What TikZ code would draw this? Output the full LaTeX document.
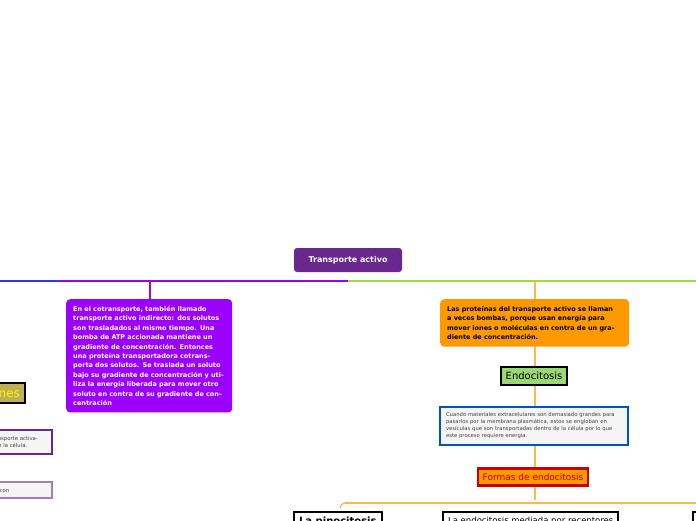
\documentclass[tikz,border=0pt]{standalone}
\usepackage{fontspec}
\setmainfont{DejaVu Sans}
\usetikzlibrary{positioning}
\definecolor{rootc}{HTML}{68288E}
\definecolor{cotc}{HTML}{9B00FF}
\definecolor{protc}{HTML}{FF9900}
\definecolor{limec}{HTML}{9BDD3C}
\definecolor{linec}{HTML}{FFB84D}
\begin{document}
\begin{tikzpicture}[x=1pt,y=-1pt,
    textbox/.style={rounded corners=4pt,align=left,inner sep=7pt,font=\bfseries\fontsize{6.5}{9.4}\selectfont},
    framebox/.style={draw=black,line width=2.2pt,inner sep=5pt},
    notebox/.style={draw,line width=2.2pt,fill=gray!8,align=left,inner sep=6pt,font=\fontsize{5.3}{7}\selectfont,text=black!75}]
    \useasboundingbox (0,0) rectangle (696,520);
    \clip (0,0) rectangle (696,520);
    % connectors
    \draw[blue!80,line width=1.2pt] (0,281) -- (60,281);
    \draw[cotc,line width=1.2pt] (60,281) -- (348,281);
    \draw[limec,line width=1.2pt] (348,281) -- (696,281);
    \draw[cotc,line width=1.2pt] (150,281) -- (150,300);
    \draw[linec,line width=1.2pt] (535,281) -- (535,500);
    \draw[linec,line width=1.2pt] (345,503) -- (696,503);
    \draw[linec,line width=1.2pt] (345,503) to[out=180,in=90] (340,508);
    % nodes
    \node[fill=rootc,rounded corners=3pt,text=white,font=\bfseries\fontsize{8}{9}\selectfont,
        minimum width=108pt,minimum height=24pt] (root) at (348,260) {Transporte activo};
    \node[textbox,fill=cotc,text=white,text width=152pt,anchor=north west] (cot) at (66,299)
        {En el cotransporte, también llamado transporte activo indirecto: dos solutos son trasladados al mismo tiempo. Una bomba de ATP accionada mantiene un gradiente de concentración. Entonces una proteína transportadora cotransporta dos solutos. Se traslada un soluto bajo su gradiente de concentración y utiliza la energía liberada para mover otro soluto en contra de su gradiente de concentración};
    \node[textbox,fill=protc,text=black,text width=175pt,anchor=north west] (prot) at (440,299)
        {Las proteínas del transporte activo se llaman a veces bombas, porque usan energía para mover iones o moléculas en contra de un gradiente de concentración.};
    \node[framebox,fill=green!45!olive!55,font=\fontsize{10}{11}\selectfont] (endo) at (534,376) {Endocitosis};
    \node[notebox,draw=blue!60!cyan!80!black,text width=176pt] (cuando) at (534,426)
        {Cuando materiales extracelulares son demasiado grandes para pasarlos por la membrana plasmática, estos se engloban en vesículas que son transportadas dentro de la célula por lo que este proceso requiere energía.};
    \node[framebox,draw=red!80!black,fill=orange!80!yellow,text=red!75!black,font=\fontsize{9}{10}\selectfont] (formas) at (533,477) {Formas de endocitosis};
    \node[framebox,fill=white,anchor=north west,font=\bfseries\fontsize{10}{12}\selectfont] (pino) at (293,511) {La pinocitosis};
    \node[framebox,fill=white,anchor=north west,font=\fontsize{8.5}{11}\selectfont] (recep) at (442,511) {La endocitosis mediada por receptores};
    \node[framebox,fill=white,anchor=north west,minimum width=30pt,minimum height=14pt] (otra) at (692,511) {};
    \node[framebox,fill=olive!60!brown!70,text=yellow,font=\fontsize{12}{13}\selectfont,anchor=east] (funciones) at (26,393) {Funciones};
    \node[notebox,draw=rootc,text width=95pt,anchor=east] (celulas) at (53,442)
        {Las células de transporte activamente los iones de la célula.};
    \node[notebox,draw=rootc!60,text width=95pt,anchor=east] (mente) at (53,490)
        {Simultáneamente con};
\end{tikzpicture}
\end{document}
